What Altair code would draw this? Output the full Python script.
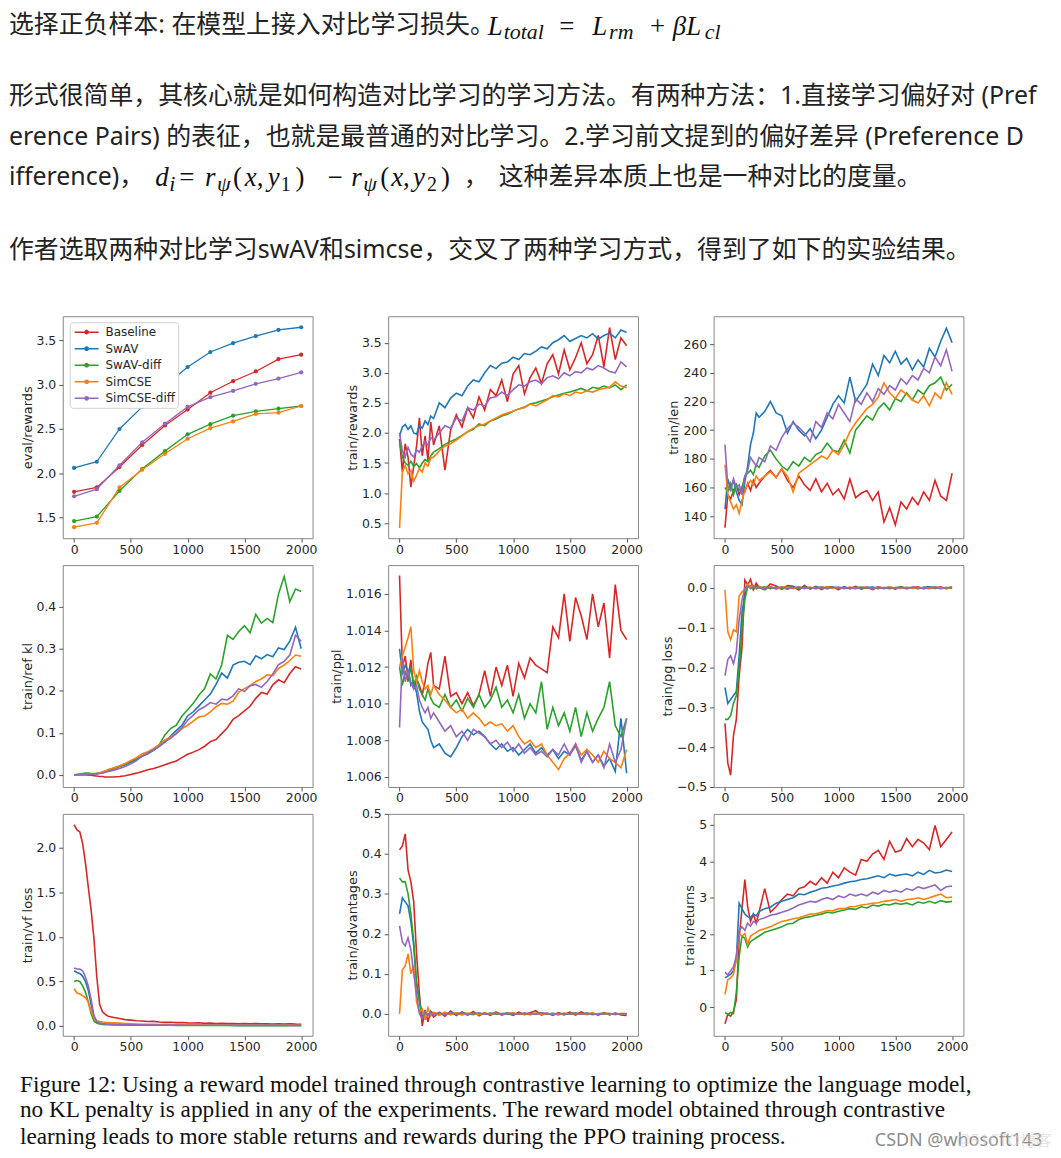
import altair as alt
import pandas as pd

# ------------------------------------------------------------------ data
SERIES = ["Baseline", "SwAV", "SwAV-diff", "SimCSE", "SimCSE-diff"]
COLORS = ["#d62728", "#1f77b4", "#2ca02c", "#ff7f0e", "#9467bd"]
X_TICKS = [0, 500, 1000, 1500, 2000]

EVAL_STEPS = [0, 200, 400, 600, 800, 1000, 1200, 1400, 1600, 1800, 2000]
eval_baseline = [1.79, 1.84, 2.07, 2.32, 2.54, 2.72, 2.91, 3.04, 3.15, 3.29, 3.34]
eval_swav = [2.06, 2.13, 2.50, 2.75, 2.99, 3.20, 3.37, 3.47, 3.55, 3.62, 3.65]
eval_swav_diff = [1.46, 1.51, 1.80, 2.05, 2.25, 2.44, 2.555, 2.65, 2.70, 2.73, 2.76]
eval_simcse = [1.39, 1.44, 1.84, 2.04, 2.22, 2.39, 2.51, 2.585, 2.67, 2.685, 2.76]
eval_simcse_diff = [1.74, 1.82, 2.09, 2.35, 2.56, 2.75, 2.86, 2.93, 3.01, 3.07, 3.14]

STEPS = [0, 25, 50, 75, 100, 125, 150, 175, 200, 225, 250, 275, 300,
         350, 400, 450, 500, 550, 600, 650, 700,
         750, 800, 850, 900, 950, 1000, 1050, 1100,
         1150, 1200, 1250, 1300, 1350, 1400, 1450, 1500,
         1550, 1600, 1650, 1700, 1750, 1800, 1850, 1900, 1950, 2000]

rewards_baseline = [
    1.90, 1.35, 1.82, 1.60, 1.10, 1.45, 1.78, 2.25, 1.62, 1.95, 1.55, 2.18, 1.80,
    2.12, 1.38, 2.05, 2.30, 2.10, 2.42, 2.25, 2.60,
    2.38, 2.72, 2.62, 2.88, 2.52, 2.98, 3.12, 2.65,
    2.92, 3.08, 2.82, 3.15, 3.30, 2.98, 3.38, 3.05,
    3.25, 3.50, 3.15, 3.30, 3.62, 3.10, 3.75, 3.22, 3.58, 3.45]
rewards_swav = [
    1.95, 2.10, 2.14, 2.06, 2.12, 2.00, 1.98, 2.12, 2.08, 2.20, 2.14, 2.28, 2.24,
    2.50, 2.42, 2.58, 2.66, 2.62, 2.78, 2.88, 2.85,
    3.00, 3.12, 3.07, 3.16, 3.18, 3.26, 3.22, 3.32,
    3.30, 3.36, 3.43, 3.40, 3.50, 3.55, 3.62, 3.52,
    3.57, 3.62, 3.58, 3.65, 3.56, 3.62, 3.66, 3.58, 3.71, 3.67]
rewards_swav_diff = [
    1.85, 1.60, 1.50, 1.46, 1.53, 1.44, 1.49, 1.42, 1.50, 1.56, 1.52, 1.62, 1.68,
    1.74, 1.81, 1.86, 1.90, 1.96, 2.02, 2.06, 2.15,
    2.12, 2.20, 2.23, 2.28, 2.31, 2.36, 2.40, 2.43,
    2.48, 2.50, 2.53, 2.56, 2.60, 2.63, 2.66, 2.68,
    2.71, 2.74, 2.70, 2.76, 2.74, 2.78, 2.75, 2.80, 2.72, 2.80]
rewards_simcse = [
    0.42, 1.35, 1.46, 1.32, 1.38, 1.20, 1.30, 1.41, 1.35, 1.50, 1.45, 1.58, 1.60,
    1.70, 1.78, 1.82, 1.88, 1.95, 2.02, 2.08, 2.12,
    2.15, 2.20, 2.25, 2.30, 2.33, 2.36, 2.40, 2.42,
    2.48, 2.45, 2.50, 2.55, 2.62, 2.60, 2.65, 2.62,
    2.68, 2.66, 2.70, 2.68, 2.72, 2.74, 2.76, 2.85, 2.78, 2.75]
rewards_simcse_diff = [
    2.00, 1.70, 1.60, 1.76, 1.65, 1.60, 1.72, 1.68, 1.78, 1.86, 1.80, 1.92, 1.88,
    2.00, 2.12, 2.08, 2.25, 2.20, 2.42, 2.38, 2.48,
    2.45, 2.58, 2.60, 2.68, 2.62, 2.72, 2.80, 2.78,
    2.85, 2.88, 2.82, 2.92, 2.95, 2.90, 3.00, 2.95,
    3.02, 3.00, 3.08, 3.05, 3.12, 3.08, 3.02, 3.00, 3.18, 3.10]

len_baseline = [
    132, 155, 152, 158, 162, 155, 160, 157, 163, 158, 165, 160, 163,
    168, 172, 167, 173, 165, 160, 168, 162,
    158, 166, 157, 163, 155, 159, 152, 166,
    153, 156, 158, 151, 157, 136, 146, 134,
    150, 145, 153, 148, 157, 151, 165, 154, 151, 170]
len_swav = [
    145, 166, 159, 165, 157, 151, 148, 164, 175, 190, 198, 212, 209,
    213, 220, 212, 210, 198, 206, 200, 196,
    201, 194, 200, 209, 218, 224, 219, 237,
    220, 226, 232, 246, 238, 252, 247, 255,
    246, 250, 242, 249, 244, 257, 251, 262, 271, 261]
len_swav_diff = [
    160, 157, 163, 155, 162, 158, 160, 168, 170, 172, 169, 176, 174,
    182, 186, 180, 175, 172, 178, 175, 181,
    178, 183, 185, 191, 186, 185, 193, 184,
    200, 205, 210, 207, 215, 219, 214, 222,
    220, 226, 221, 228, 225, 231, 233, 237, 228, 232]
len_simcse = [
    176, 155, 150, 145, 148, 142, 151, 158, 162, 165, 162, 168, 165,
    168, 171, 167, 173, 168, 157, 170, 173,
    176, 179, 182, 180, 186, 183, 190, 199,
    205, 210, 215, 218, 223, 233, 226, 222,
    228, 225, 221, 219, 224, 217, 226, 222, 233, 225]
len_simcse_diff = [
    190, 161, 158, 166, 160, 162, 155, 168, 172, 181, 178, 175, 181,
    178, 189, 186, 195, 201, 205, 202, 198,
    192, 206, 202, 212, 208, 218, 212, 206,
    222, 218, 226, 220, 229, 225, 231, 228,
    236, 232, 238, 235, 243, 240, 251, 245, 256, 241]

kl_baseline = [
    0.0, 0.0, 0.0, 0.0, 0.0, -0.001, -0.001, -0.002, -0.003, -0.004, -0.004, -0.005, -0.005,
    -0.005, -0.004, -0.002, 0.001, 0.004, 0.008, 0.012, 0.015,
    0.019, 0.024, 0.029, 0.033, 0.041, 0.049, 0.054, 0.060,
    0.068, 0.079, 0.084, 0.098, 0.112, 0.132, 0.141, 0.152,
    0.163, 0.182, 0.196, 0.192, 0.214, 0.226, 0.219, 0.241, 0.257, 0.252]
kl_swav = [
    0.0, 0.0, 0.0, 0.001, 0.001, 0.002, 0.002, 0.002, 0.003, 0.004, 0.006, 0.008, 0.010,
    0.014, 0.019, 0.024, 0.030, 0.037, 0.044, 0.050, 0.058,
    0.068, 0.078, 0.092, 0.105, 0.118, 0.140, 0.150, 0.164,
    0.178, 0.192, 0.215, 0.242, 0.230, 0.261, 0.268, 0.270,
    0.262, 0.283, 0.276, 0.286, 0.281, 0.302, 0.298, 0.318, 0.351, 0.300]
kl_swav_diff = [
    0.0, 0.001, 0.002, 0.003, 0.004, 0.004, 0.003, 0.003, 0.003, 0.004, 0.006, 0.009, 0.012,
    0.016, 0.021, 0.026, 0.032, 0.039, 0.045, 0.052, 0.060,
    0.072, 0.095, 0.110, 0.118, 0.140, 0.155, 0.170, 0.190,
    0.205, 0.240, 0.228, 0.262, 0.332, 0.322, 0.341, 0.355,
    0.338, 0.382, 0.361, 0.372, 0.362, 0.430, 0.472, 0.412, 0.442, 0.436]
kl_simcse = [
    0.0, 0.0, 0.0, 0.001, 0.001, 0.001, 0.002, 0.002, 0.003, 0.005, 0.007, 0.009, 0.012,
    0.016, 0.021, 0.027, 0.034, 0.041, 0.050, 0.055, 0.063,
    0.072, 0.083, 0.090, 0.098, 0.110, 0.118, 0.128, 0.138,
    0.140, 0.150, 0.162, 0.170, 0.168, 0.175, 0.197, 0.205,
    0.212, 0.222, 0.228, 0.238, 0.236, 0.253, 0.261, 0.272, 0.285, 0.282]
kl_simcse_diff = [
    0.0, 0.0, 0.0, 0.0, 0.001, 0.001, 0.001, 0.002, 0.002, 0.003, 0.004, 0.006, 0.008,
    0.011, 0.015, 0.020, 0.026, 0.034, 0.045, 0.052, 0.060,
    0.068, 0.079, 0.087, 0.098, 0.112, 0.130, 0.142, 0.155,
    0.162, 0.172, 0.168, 0.180, 0.178, 0.188, 0.205, 0.198,
    0.212, 0.215, 0.208, 0.222, 0.240, 0.262, 0.270, 0.285, 0.332, 0.318]

ppl_baseline = [
    1.0170, 1.0120, 1.0126, 1.0114, 1.0124, 1.0108, 1.0113, 1.0110, 1.0105, 1.0112, 1.0122, 1.0128, 1.0110,
    1.0108, 1.0126, 1.0104, 1.0106, 1.0100, 1.0106, 1.0099, 1.0105,
    1.0118, 1.0104, 1.0120, 1.0110, 1.0121, 1.0104, 1.0122, 1.0114,
    1.0125, 1.0121, 1.0119, 1.0117, 1.0142, 1.0136, 1.0160, 1.0134,
    1.0158, 1.0148, 1.0135, 1.0160, 1.0142, 1.0155, 1.0125, 1.0165, 1.0140, 1.0135]
ppl_swav = [
    1.0130, 1.0116, 1.0121, 1.0118, 1.0110, 1.0112, 1.0106, 1.0096, 1.0090, 1.0088, 1.0086, 1.0080, 1.0076,
    1.0078, 1.0073, 1.0071, 1.0076, 1.0082, 1.0086, 1.0083, 1.0085,
    1.0082, 1.0078, 1.0075, 1.0078, 1.0074, 1.0076, 1.0072, 1.0075,
    1.0078, 1.0073, 1.0076, 1.0072, 1.0075, 1.0070, 1.0074, 1.0072,
    1.0077, 1.0069, 1.0074, 1.0068, 1.0072, 1.0066, 1.0070, 1.0063, 1.0092, 1.0062]
ppl_swav_diff = [
    1.0120, 1.0110, 1.0118, 1.0112, 1.0120, 1.0110, 1.0115, 1.0108, 1.0105, 1.0102, 1.0108, 1.0103, 1.0100,
    1.0098, 1.0105, 1.0098, 1.0102, 1.0096, 1.0103, 1.0098, 1.0105,
    1.0098, 1.0102, 1.0109, 1.0098, 1.0102, 1.0095, 1.0105, 1.0092,
    1.0100, 1.0095, 1.0112, 1.0086, 1.0098, 1.0088, 1.0095, 1.0085,
    1.0098, 1.0082, 1.0095, 1.0085, 1.0092, 1.0098, 1.0112, 1.0088, 1.0082, 1.0092]
ppl_simcse = [
    1.0120, 1.0126, 1.0131, 1.0136, 1.0142, 1.0118, 1.0112, 1.0118, 1.0112, 1.0108, 1.0110, 1.0105, 1.0110,
    1.0105, 1.0102, 1.0098, 1.0095, 1.0097, 1.0092, 1.0095, 1.0092,
    1.0088, 1.0090, 1.0088, 1.0089, 1.0085, 1.0088, 1.0082, 1.0078,
    1.0080, 1.0076, 1.0078, 1.0072, 1.0068, 1.0064, 1.0070, 1.0073,
    1.0078, 1.0072, 1.0075, 1.0072, 1.0068, 1.0074, 1.0070, 1.0068, 1.0065, 1.0075]
ppl_simcse_diff = [
    1.0087, 1.0125, 1.0112, 1.0118, 1.0112, 1.0108, 1.0110, 1.0102, 1.0098, 1.0095, 1.0098, 1.0092, 1.0095,
    1.0090, 1.0085, 1.0088, 1.0082, 1.0085, 1.0080, 1.0086, 1.0084,
    1.0082, 1.0078, 1.0080, 1.0076, 1.0079, 1.0074, 1.0078, 1.0073,
    1.0076, 1.0072, 1.0074, 1.0071, 1.0075, 1.0072, 1.0078, 1.0072,
    1.0078, 1.0068, 1.0074, 1.0068, 1.0072, 1.0065, 1.0078, 1.0068, 1.0075, 1.0092]

pg_baseline = [
    -0.34, -0.44, -0.47, -0.37, -0.33, -0.22, -0.15, 0.02, 0.008, 0.022, -0.004, 0.012, 0.002,
    -0.004, 0.010, 0.005, -0.003, 0.006, 0.004, -0.005, 0.006,
    -0.003, 0.004, -0.004, 0.003, 0.002, -0.004, 0.003, -0.002,
    0.004, -0.003, 0.002, -0.004, 0.003, -0.001, 0.002, -0.003,
    0.003, -0.002, 0.001, 0.003, -0.002, 0.002, -0.001, 0.003, -0.002, 0.003]
pg_swav = [
    -0.25, -0.29, -0.28, -0.27, -0.26, -0.17, -0.06, -0.02, 0.008, 0.004, -0.003, 0.005, 0.001,
    -0.004, 0.003, -0.002, 0.002, -0.003, 0.002, -0.001, 0.003,
    -0.002, 0.001, 0.002, -0.002, 0.001, -0.001, 0.002, -0.001,
    0.001, -0.002, 0.001, 0.002, -0.001, 0.001, -0.002, 0.001,
    0.002, -0.001, 0.001, -0.001, 0.002, 0.003, -0.001, 0.001, -0.001, 0.000]
pg_swav_diff = [
    -0.33, -0.33, -0.32, -0.29, -0.27, -0.20, -0.10, -0.03, 0.005, 0.006, -0.002, 0.004, 0.000,
    0.003, -0.002, 0.002, -0.003, 0.002, 0.001, -0.002, 0.002,
    -0.001, 0.002, -0.002, 0.001, 0.002, -0.001, 0.001, -0.002,
    0.001, 0.002, -0.001, 0.001, -0.002, 0.001, 0.001, -0.001,
    0.002, -0.001, 0.001, -0.002, 0.001, 0.000, 0.002, -0.001, 0.001, 0.000]
pg_simcse = [
    -0.005, -0.11, -0.13, -0.105, -0.11, -0.02, -0.01, -0.005, 0.01, 0.002, 0.006, -0.003, 0.004,
    -0.002, 0.003, -0.003, 0.002, 0.001, -0.002, 0.003, -0.001,
    0.002, -0.002, 0.001, 0.002, -0.001, 0.001, -0.002, 0.002,
    -0.001, 0.001, 0.002, -0.002, 0.001, -0.001, 0.002, 0.000,
    -0.001, 0.002, -0.001, 0.001, 0.000, -0.002, 0.002, 0.001, -0.001, 0.002]
pg_simcse_diff = [
    -0.22, -0.18, -0.17, -0.19, -0.16, -0.08, -0.03, 0.00, 0.005, -0.002, 0.004, -0.001, 0.002,
    -0.002, 0.002, -0.001, 0.003, -0.002, 0.001, 0.002, -0.001,
    0.001, -0.002, 0.002, -0.001, 0.001, 0.002, -0.001, 0.001,
    -0.002, 0.001, 0.001, -0.001, 0.002, -0.001, 0.001, 0.000,
    0.001, -0.001, 0.002, 0.000, -0.001, 0.001, 0.002, -0.002, 0.001, 0.001]

vf_baseline = [
    2.26, 2.20, 2.18, 2.05, 1.83, 1.56, 1.30, 0.98, 0.55, 0.24, 0.16, 0.13, 0.11,
    0.095, 0.085, 0.072, 0.066, 0.060, 0.057, 0.050, 0.052,
    0.045, 0.041, 0.043, 0.038, 0.040, 0.035, 0.033, 0.036,
    0.030, 0.032, 0.028, 0.031, 0.027, 0.029, 0.026, 0.028,
    0.025, 0.027, 0.024, 0.026, 0.023, 0.025, 0.022, 0.024, 0.021, 0.020]
vf_swav = [
    0.62, 0.60, 0.59, 0.56, 0.50, 0.40, 0.24, 0.10, 0.045, 0.032, 0.026, 0.022, 0.020,
    0.018, 0.016, 0.015, 0.014, 0.013, 0.012, 0.012, 0.011,
    0.011, 0.010, 0.010, 0.010, 0.009, 0.009, 0.009, 0.009,
    0.008, 0.008, 0.008, 0.008, 0.008, 0.007, 0.007, 0.007,
    0.007, 0.007, 0.007, 0.007, 0.006, 0.006, 0.006, 0.006, 0.006, 0.006]
vf_swav_diff = [
    0.50, 0.51, 0.50, 0.45, 0.38, 0.27, 0.14, 0.055, 0.030, 0.022, 0.018, 0.016, 0.014,
    0.013, 0.012, 0.011, 0.010, 0.010, 0.009, 0.009, 0.008,
    0.008, 0.008, 0.008, 0.007, 0.007, 0.007, 0.007, 0.007,
    0.006, 0.006, 0.006, 0.006, 0.006, 0.006, 0.005, 0.005,
    0.005, 0.005, 0.005, 0.005, 0.005, 0.005, 0.005, 0.005, 0.005, 0.005]
vf_simcse = [
    0.42, 0.37, 0.36, 0.34, 0.32, 0.27, 0.17, 0.09, 0.060, 0.050, 0.045, 0.042, 0.040,
    0.036, 0.032, 0.028, 0.025, 0.022, 0.020, 0.019, 0.018,
    0.017, 0.016, 0.015, 0.015, 0.014, 0.014, 0.013, 0.013,
    0.012, 0.012, 0.012, 0.011, 0.011, 0.011, 0.010, 0.010,
    0.010, 0.010, 0.010, 0.009, 0.009, 0.009, 0.009, 0.009, 0.008, 0.008]
vf_simcse_diff = [
    0.65, 0.64, 0.64, 0.62, 0.55, 0.45, 0.30, 0.12, 0.050, 0.034, 0.027, 0.023, 0.021,
    0.019, 0.017, 0.016, 0.015, 0.014, 0.013, 0.012, 0.012,
    0.011, 0.011, 0.010, 0.010, 0.010, 0.009, 0.009, 0.009,
    0.009, 0.008, 0.008, 0.008, 0.008, 0.008, 0.007, 0.007,
    0.007, 0.007, 0.007, 0.007, 0.007, 0.006, 0.006, 0.006, 0.006, 0.006]

adv_baseline = [
    0.41, 0.42, 0.45, 0.36, 0.33, 0.28, 0.15, 0.05, -0.03, 0.01, -0.02, 0.006, -0.008,
    0.004, -0.006, 0.007, -0.004, 0.005, -0.003, 0.006, -0.005,
    0.003, -0.004, 0.005, -0.003, 0.002, -0.004, 0.004, -0.002,
    0.003, 0.008, -0.003, 0.002, -0.004, 0.003, -0.002, 0.004,
    -0.003, 0.005, -0.002, 0.002, -0.003, 0.003, -0.002, 0.002, -0.003, -0.004]
adv_swav = [
    0.25, 0.29, 0.28, 0.27, 0.23, 0.17, 0.07, 0.035, -0.01, 0.004, -0.003, 0.005, 0.002,
    -0.003, 0.003, -0.002, 0.002, 0.001, -0.002, 0.002, -0.001,
    0.001, -0.002, 0.002, 0.000, -0.001, 0.002, -0.001, 0.001,
    -0.002, 0.001, 0.002, -0.001, 0.001, -0.002, 0.001, 0.000,
    0.001, -0.001, 0.002, -0.001, 0.000, 0.001, -0.002, 0.001, 0.000, -0.001]
adv_swav_diff = [
    0.34, 0.33, 0.33, 0.30, 0.25, 0.18, 0.08, 0.03, 0.00, 0.006, -0.004, 0.004, 0.001,
    0.002, -0.003, 0.003, -0.002, 0.002, 0.001, -0.002, 0.002,
    -0.001, 0.002, -0.001, 0.001, 0.002, -0.002, 0.001, 0.000,
    0.001, -0.001, 0.002, -0.001, 0.001, 0.000, -0.002, 0.001,
    0.002, -0.001, 0.001, -0.002, 0.001, 0.000, 0.001, -0.001, 0.001, 0.000]
adv_simcse = [
    0.00, 0.11, 0.12, 0.15, 0.10, 0.12, 0.03, 0.005, 0.012, -0.015, 0.015, -0.005, 0.004,
    -0.003, 0.004, -0.002, 0.003, -0.003, 0.002, 0.001, -0.002,
    0.002, -0.001, 0.002, -0.002, 0.001, 0.002, -0.001, 0.001,
    -0.001, 0.002, -0.001, 0.001, 0.000, -0.002, 0.002, -0.001,
    0.001, 0.000, -0.001, 0.002, -0.001, 0.001, 0.000, -0.002, 0.001, 0.000]
adv_simcse_diff = [
    0.22, 0.18, 0.17, 0.19, 0.16, 0.10, 0.05, 0.00, -0.012, 0.005, -0.004, 0.003, -0.002,
    0.002, -0.002, 0.003, -0.001, 0.002, -0.002, 0.001, 0.002,
    -0.001, 0.001, 0.002, -0.002, 0.001, 0.000, -0.001, 0.002,
    0.000, -0.001, 0.002, 0.001, -0.002, 0.001, 0.000, -0.001,
    0.002, -0.001, 0.001, 0.000, -0.002, 0.001, 0.001, -0.001, 0.000, 0.001]

ret_baseline = [
    -0.46, -0.20, -0.25, -0.12, 0.20, 1.90, 2.70, 3.50, 2.75, 2.35, 2.55, 2.30, 2.60,
    3.25, 2.60, 2.75, 2.95, 3.10, 3.05, 3.25, 3.30,
    3.45, 3.35, 3.55, 3.40, 3.70, 3.55, 3.82, 3.70,
    3.62, 4.05, 4.00, 4.20, 4.30, 4.05, 4.55, 4.25,
    4.30, 4.62, 4.40, 4.60, 4.50, 4.32, 4.98, 4.40, 4.60, 4.80]
ret_swav = [
    0.80, 0.85, 0.90, 1.00, 1.30, 2.85, 2.70, 2.55, 2.48, 2.45, 2.55, 2.50, 2.62,
    2.70, 2.74, 2.85, 2.90, 2.95, 3.00, 3.10, 3.08,
    3.15, 3.20, 3.26, 3.28, 3.32, 3.35, 3.40, 3.44,
    3.46, 3.50, 3.52, 3.56, 3.60, 3.55, 3.65, 3.60,
    3.63, 3.65, 3.60, 3.70, 3.64, 3.75, 3.68, 3.70, 3.76, 3.72]
ret_swav_diff = [
    -0.15, -0.20, -0.15, -0.18, 0.40, 1.40, 1.95, 1.88, 1.65, 1.80, 1.85, 1.90, 1.95,
    2.05, 2.10, 2.15, 2.20, 2.28, 2.30, 2.40, 2.45,
    2.48, 2.52, 2.55, 2.60, 2.58, 2.63, 2.66, 2.70,
    2.68, 2.75, 2.72, 2.80, 2.77, 2.82, 2.80, 2.85,
    2.82, 2.85, 2.80, 2.88, 2.85, 2.90, 2.85, 2.92, 2.88, 2.90]
ret_simcse = [
    0.35, 0.75, 0.80, 0.90, 1.30, 2.00, 1.95, 2.02, 1.72, 1.95, 2.00, 2.05, 2.10,
    2.15, 2.20, 2.28, 2.35, 2.38, 2.42, 2.45, 2.50,
    2.55, 2.56, 2.60, 2.65, 2.64, 2.70, 2.70, 2.75,
    2.76, 2.80, 2.82, 2.85, 2.86, 2.90, 2.92, 2.95,
    2.90, 2.95, 2.96, 3.00, 2.95, 3.00, 3.05, 3.10, 3.00, 3.02]
ret_simcse_diff = [
    0.95, 0.88, 1.00, 1.10, 1.40, 2.10, 2.20, 2.10, 2.30, 2.22, 2.35, 2.30, 2.40,
    2.45, 2.52, 2.55, 2.60, 2.65, 2.72, 2.80, 2.85,
    2.90, 2.88, 2.95, 3.00, 2.95, 3.05, 3.00, 3.10,
    3.05, 3.10, 3.05, 3.15, 3.10, 3.20, 3.15, 3.20,
    3.15, 3.25, 3.20, 3.30, 3.25, 3.30, 3.35, 3.20, 3.30, 3.32]

PANEL_TITLES = ["eval/rewards", "train/rewards", "train/len",
                "train/ref kl", "train/ppl", "train/pg loss",
                "train/vf loss", "train/advantages", "train/returns"]
Y_TICKS = [
    [1.5, 2.0, 2.5, 3.0, 3.5],
    [0.5, 1.0, 1.5, 2.0, 2.5, 3.0, 3.5],
    [140, 160, 180, 200, 220, 240, 260],
    [0.0, 0.1, 0.2, 0.3, 0.4],
    [1.006, 1.008, 1.010, 1.012, 1.014, 1.016],
    [-0.5, -0.4, -0.3, -0.2, -0.1, 0.0],
    [0.0, 0.5, 1.0, 1.5, 2.0],
    [0.0, 0.1, 0.2, 0.3, 0.4, 0.5],
    [0, 1, 2, 3, 4, 5],
]

HEADER_LINES = [
    "选择正负样本: 在模型上接入对比学习损失。",
    "形式很简单，其核心就是如何构造对比学习的学习方法。有两种方法：1.直接学习偏好对 (Pref",
    "erence Pairs) 的表征，也就是最普通的对比学习。2.学习前文提到的偏好差异 (Preference D",
    "ifference)，",
    "，",
    "这种差异本质上也是一种对比的度量。",
    "作者选取两种对比学习swAV和simcse，交叉了两种学习方式，得到了如下的实验结果。",
]
CAPTION_LINES = [
    "Figure 12: Using a reward model trained through contrastive learning to optimize the language model,",
    "no KL penalty is applied in any of the experiments. The reward model obtained through contrastive",
    "learning leads to more stable returns and rewards during the PPO training process.",
]
WATERMARK = "CSDN @whosoft143"
WATERMARK_GHOST = "@51CTO博客"

# ------------------------------------------------------------------ layout / style
PLOT_W, PLOT_H = 251, 223
P1_ORIGIN = (62, 314)
P7_ORIGIN = (62, 814)
CJK_FONT = "Noto Sans, Noto Sans CJK SC, sans-serif"
MATH_FONT = "Liberation Serif"
TEXT_COLOR = "#222222"
LEG_PATH = ("M-2,0L2,0M0.27,0A0.27,0.27,0,1,1,-0.27,0A0.27,0.27,0,1,1,0.27,0"
            "M0.1,0A0.1,0.1,0,1,1,-0.1,0A0.1,0.1,0,1,1,0.1,0")


def long_frame(steps, lists):
    rows = []
    for name, vals in zip(SERIES, lists):
        for s, v in zip(steps, vals):
            rows.append({"step": s, "value": v, "series": name})
    return pd.DataFrame(rows)


def text_chart(rows, origin, font, size, color, style="normal", opacity=1.0):
    ox, oy = origin
    df = pd.DataFrame({"t": [r[0] for r in rows],
                       "px": [r[1] - ox for r in rows],
                       "py": [r[2] - oy for r in rows]})
    return alt.Chart(df).mark_text(
        align="left", baseline="alphabetic", font=font, fontSize=size,
        fontStyle=style, color=color, opacity=opacity
    ).encode(
        x=alt.X("px:Q", scale=None, axis=None),
        y=alt.Y("py:Q", scale=None, axis=None),
        text="t:N",
    )


def data_layer(title, steps, lists, domain, ticks, fmt, legend=False, points=False):
    df = long_frame(steps, lists)
    ex = alt.X("step:Q", scale=alt.Scale(domain=[-100, 2100], nice=False, zero=False),
               axis=alt.Axis(values=X_TICKS, format="d", title=None, labelFlush=False,
                             labelOverlap=False, labelPadding=1))
    ey = alt.Y("value:Q", scale=alt.Scale(domain=domain, nice=False, zero=False),
               axis=alt.Axis(values=ticks, format=fmt, title=title, labelFlush=False,
                             labelOverlap=False))
    cscale = alt.Scale(domain=SERIES, range=COLORS)
    if legend:
        lg = alt.Legend(orient="none", legendX=7, legendY=6, title=None,
                        symbolType=LEG_PATH, symbolSize=144, symbolStrokeWidth=1.5,
                        symbolOffset=7, labelOffset=12, padding=3, rowPadding=3.6,
                        labelFont="DejaVu Sans", labelFontSize=12, labelColor="#262626",
                        strokeColor="#d0d0d0", fillColor="white", cornerRadius=3,
                        labelLimit=300)
        color = alt.Color("series:N", scale=cscale, legend=lg, sort=SERIES)
    else:
        color = alt.Color("series:N", scale=cscale, legend=None, sort=SERIES)
    base = alt.Chart(df)
    layers = [base.mark_line(strokeWidth=1.3 if points else 1.6, clip=True)
              .encode(x=ex, y=ey, color=color)]
    if points:
        layers.append(base.mark_point(filled=True, size=18, opacity=1)
                      .encode(x=ex, y=ey,
                              color=alt.Color("series:N", scale=cscale, legend=None)))
    return alt.layer(*layers)


LISTS = [
    [eval_baseline, eval_swav, eval_swav_diff, eval_simcse, eval_simcse_diff],
    [rewards_baseline, rewards_swav, rewards_swav_diff, rewards_simcse, rewards_simcse_diff],
    [len_baseline, len_swav, len_swav_diff, len_simcse, len_simcse_diff],
    [kl_baseline, kl_swav, kl_swav_diff, kl_simcse, kl_simcse_diff],
    [ppl_baseline, ppl_swav, ppl_swav_diff, ppl_simcse, ppl_simcse_diff],
    [pg_baseline, pg_swav, pg_swav_diff, pg_simcse, pg_simcse_diff],
    [vf_baseline, vf_swav, vf_swav_diff, vf_simcse, vf_simcse_diff],
    [adv_baseline, adv_swav, adv_swav_diff, adv_simcse, adv_simcse_diff],
    [ret_baseline, ret_swav, ret_swav_diff, ret_simcse, ret_simcse_diff],
]
DOMAINS = [[1.266, 3.774], [0.25, 3.94], [124.7, 279.4], [-0.029, 0.499],
           [1.00545, 1.01757], [-0.5, 0.0575], [-0.11, 2.38], [-0.055, 0.5],
           [-0.79, 5.3]]
FORMATS = [".1f", ".1f", "d", ".1f", ".3f", ".1f", ".1f", ".1f", "d"]

# header text (page coordinates: x, alphabetic baseline)
cjk_rows = [(HEADER_LINES[0], 8, 29), (HEADER_LINES[1], 8, 101),
            (HEADER_LINES[2], 8, 142), (HEADER_LINES[3], 8, 182),
            (HEADER_LINES[4], 465, 182), (HEADER_LINES[5], 500, 182),
            (HEADER_LINES[6], 8, 255)]
math_italic = [("L", 489, 31), ("L", 594, 31), ("βL", 675, 31),
               ("d", 155, 183), ("r", 205, 183), ("x", 245, 183), ("y", 268, 183),
               ("r", 352, 183), ("x", 392, 183), ("y", 414, 183)]
math_sub_italic = [("total", 505, 35), ("rm", 611, 35), ("cl", 707, 35),
                   ("i", 169, 188), ("ψ", 217, 188), ("ψ", 364, 188)]
math_upright = [("=", 561, 31), ("+", 652, 31),
                ("=", 179, 183), ("(", 233, 183), (",", 257, 183), (")", 296, 183),
                ("−", 328, 183), ("(", 381, 183), (",", 404, 183), (")", 442, 183)]
math_sub_upright = [("1", 281, 188), ("2", 428, 188)]

caption_rows = [(CAPTION_LINES[0], 19, 1093), (CAPTION_LINES[1], 19, 1119),
                (CAPTION_LINES[2], 19, 1146)]
wm_rows = [(WATERMARK, 878, 1148)]
wm_ghost_rows = [(WATERMARK_GHOST, 960, 1148)]

anchor = alt.Chart(pd.DataFrame({"px": [8.5 - P1_ORIGIN[0]], "py": [8.5 - P1_ORIGIN[1]]})
                   ).mark_point(shape="square", size=1, filled=True, opacity=0).encode(
    x=alt.X("px:Q", scale=None, axis=None), y=alt.Y("py:Q", scale=None, axis=None))

panels = []
for i in range(9):
    steps = EVAL_STEPS if i == 0 else STEPS
    dl = data_layer(PANEL_TITLES[i], steps, LISTS[i], DOMAINS[i], Y_TICKS[i], FORMATS[i],
                    legend=(i == 0), points=(i == 0))
    if i == 0:
        p = alt.layer(
            dl,
            text_chart(cjk_rows, P1_ORIGIN, CJK_FONT, 25, TEXT_COLOR),
            text_chart(math_italic, P1_ORIGIN, MATH_FONT, 27, "#111111", style="italic"),
            text_chart(math_sub_italic, P1_ORIGIN, MATH_FONT, 22, "#111111", style="italic"),
            text_chart(math_upright, P1_ORIGIN, MATH_FONT, 27, "#111111"),
            text_chart(math_sub_upright, P1_ORIGIN, MATH_FONT, 20, "#111111"),
            anchor,
        ).resolve_scale(x="independent", y="independent")
    elif i == 6:
        p = alt.layer(
            dl,
            text_chart(caption_rows, P7_ORIGIN, "Liberation Serif", 23.4, "#111111"),
            text_chart(wm_rows, P7_ORIGIN, "Noto Sans", 18, "#8c8c8c"),
            text_chart(wm_ghost_rows, P7_ORIGIN, CJK_FONT, 16, "#d4d4d4", opacity=0.6),
        ).resolve_scale(x="independent", y="independent")
    else:
        p = dl
    panels.append(p.properties(width=PLOT_W, height=PLOT_H))

chart = alt.concat(
    *panels, columns=3, spacing={"row": 27, "column": 76}, bounds="flush",
    padding=0, background="white"
).resolve_scale(color="independent").configure_axis(
    labelFont="DejaVu Sans", labelFontSize=12.5, labelColor="#262626",
    titleFont="DejaVu Sans", titleFontSize=13, titleFontWeight="normal",
    titleColor="#262626", tickColor="#555555", tickSize=4, tickWidth=1,
    labelPadding=3, titlePadding=2, domain=False, grid=False,
).configure_view(stroke="#888888", strokeWidth=1)

chart.save("out.html", embed_options={"renderer": "svg", "actions": False})
